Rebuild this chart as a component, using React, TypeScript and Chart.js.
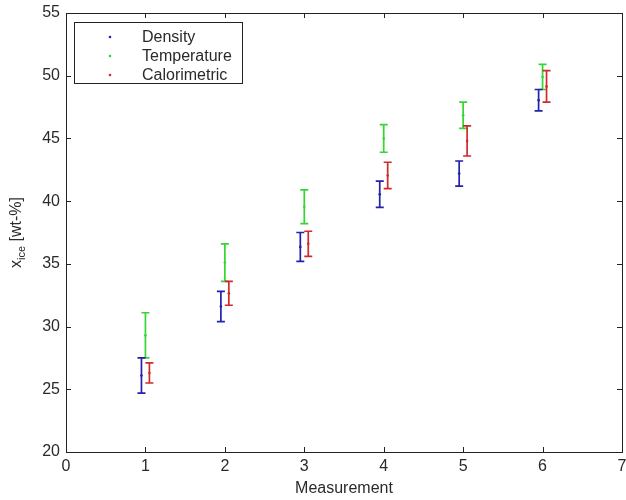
import React, { useEffect, useRef } from "react";
import { Chart, registerables } from "chart.js";

Chart.register(...registerables);

const measurements = [1, 2, 3, 4, 5, 6];

const densityMid = [26.1, 31.6, 36.35, 40.55, 42.2, 48.05];
const densityLow = [24.7, 30.4, 35.2, 39.5, 41.2, 47.2];
const densityHigh = [27.5, 32.8, 37.5, 41.6, 43.2, 48.9];

const temperatureMid = [29.3, 35.1, 39.55, 45.0, 46.85, 49.9];
const temperatureLow = [27.5, 33.6, 38.2, 43.9, 45.8, 48.9];
const temperatureHigh = [31.1, 36.6, 40.9, 46.1, 47.9, 50.9];

const calorimetricMid = [26.3, 32.65, 36.6, 42.05, 44.8, 49.15];
const calorimetricLow = [25.5, 31.7, 35.6, 41.0, 43.6, 47.9];
const calorimetricHigh = [27.1, 33.6, 37.6, 43.1, 46.0, 50.4];

const seriesNames = ["Density", "Temperature", "Calorimetric"];
const seriesOffsets = [-0.05, 0, 0.05];
const seriesColors = ["#2222aa", "#33d633", "#d02a2a"];

const xTicks = [0, 1, 2, 3, 4, 5, 6, 7];
const yTicks = [20, 25, 30, 35, 40, 45, 50, 55];

const FONT = "Liberation Sans, Arial, sans-serif";
const TXT = "#2a2a2a";

export default function App() {
  const ref = useRef<HTMLCanvasElement | null>(null);

  useEffect(() => {
    if (!ref.current) return;
    const mids = [densityMid, temperatureMid, calorimetricMid];
    const lows = [densityLow, temperatureLow, calorimetricLow];
    const highs = [densityHigh, temperatureHigh, calorimetricHigh];

    const datasets = seriesNames.map((name, i) => ({
      label: name,
      data: measurements.map((m, j) => ({ x: m + seriesOffsets[i], y: mids[i][j] })),
      backgroundColor: seriesColors[i],
      borderColor: seriesColors[i],
      pointRadius: 1.3,
      pointBorderWidth: 0,
      showLine: false,
    }));

    const errorPlugin = {
      id: "errbars",
      afterDatasetsDraw(chart: any) {
        const ctx = chart.ctx;
        const xs = chart.scales.x;
        const ys = chart.scales.y;
        ctx.save();
        const order = [1, 0, 2];
        order.forEach((i) => {
          ctx.strokeStyle = seriesColors[i];
          ctx.lineWidth = 1.7;
          measurements.forEach((m, j) => {
            const px = xs.getPixelForValue(m + seriesOffsets[i]);
            const pl = ys.getPixelForValue(lows[i][j]);
            const ph = ys.getPixelForValue(highs[i][j]);
            ctx.beginPath();
            ctx.moveTo(px, pl);
            ctx.lineTo(px, ph);
            ctx.moveTo(px - 4, pl);
            ctx.lineTo(px + 4, pl);
            ctx.moveTo(px - 4, ph);
            ctx.lineTo(px + 4, ph);
            ctx.stroke();
          });
        });
        ctx.restore();
      },
      afterDraw(chart: any) {
        const ctx = chart.ctx;
        const a = chart.chartArea;
        const xs = chart.scales.x;
        const ys = chart.scales.y;
        ctx.save();
        // frame
        ctx.strokeStyle = "#222";
        ctx.lineWidth = 1;
        ctx.strokeRect(Math.round(a.left) + 0.5, Math.round(a.top) + 0.5, Math.round(a.right - a.left), Math.round(a.bottom - a.top));
        // inward ticks
        ctx.beginPath();
        xTicks.forEach((t) => {
          const px = Math.round(xs.getPixelForValue(t)) + 0.5;
          ctx.moveTo(px, a.bottom);
          ctx.lineTo(px, a.bottom - 5);
          ctx.moveTo(px, a.top);
          ctx.lineTo(px, a.top + 5);
        });
        yTicks.forEach((t) => {
          const py = Math.round(ys.getPixelForValue(t)) + 0.5;
          ctx.moveTo(a.left, py);
          ctx.lineTo(a.left + 5, py);
          ctx.moveTo(a.right, py);
          ctx.lineTo(a.right - 5, py);
        });
        ctx.stroke();

        // legend
        const lx = 74, ly = 22, lw = 168, lh = 61;
        ctx.fillStyle = "#fff";
        ctx.fillRect(lx, ly, lw, lh);
        ctx.strokeStyle = "#222";
        ctx.strokeRect(lx + 0.5, ly + 0.5, lw, lh);
        ctx.font = `16px ${FONT}`;
        ctx.textBaseline = "middle";
        ctx.textAlign = "left";
        seriesNames.forEach((name, i) => {
          const yy = 37 + i * 19;
          ctx.fillStyle = seriesColors[i];
          ctx.beginPath();
          ctx.arc(110, yy, 1.3, 0, Math.PI * 2);
          ctx.fill();
          ctx.fillStyle = TXT;
          ctx.fillText(name, 142, yy + 1);
        });

        // y axis title with subscript
        ctx.translate(17, (a.top + a.bottom) / 2);
        ctx.rotate(-Math.PI / 2);
        ctx.fillStyle = TXT;
        ctx.textBaseline = "middle";
        ctx.font = `16px ${FONT}`;
        const w1 = ctx.measureText("x").width;
        ctx.font = `11px ${FONT}`;
        const w2 = ctx.measureText("ice").width;
        ctx.font = `16px ${FONT}`;
        const w3 = ctx.measureText(" [wt-%]").width;
        const total = w1 + w2 + w3;
        let cx = -total / 2;
        ctx.fillText("x", cx, 0);
        cx += w1;
        ctx.font = `11px ${FONT}`;
        ctx.fillText("ice", cx, 5);
        cx += w2;
        ctx.font = `16px ${FONT}`;
        ctx.fillText(" [wt-%]", cx, 0);
        ctx.restore();
      },
    };

    const chart = new Chart(ref.current, {
      type: "scatter",
      data: { datasets },
      options: {
        animation: false,
        responsive: false,
        layout: { padding: { top: 13, right: 3, left: 0, bottom: 0 } },
        plugins: { legend: { display: false }, tooltip: { enabled: false } },
        scales: {
          x: {
            type: "linear",
            min: 0,
            max: 7,
            grid: { display: false, drawTicks: false },
            border: { display: false },
            afterBuildTicks: (s: any) => {
              s.ticks = xTicks.map((v) => ({ value: v }));
            },
            afterFit: (s: any) => {
              s.height = 48;
              s.paddingRight = 0;
              s.paddingLeft = 0;
            },
            ticks: { color: TXT, font: { family: FONT, size: 16 }, padding: 5, maxRotation: 0, autoSkip: false },
            title: { display: true, text: "Measurement", color: TXT, font: { family: FONT, size: 16 }, padding: { top: 0, bottom: 2 } },
          },
          y: {
            type: "linear",
            min: 20,
            max: 55,
            grid: { display: false, drawTicks: false },
            border: { display: false },
            afterBuildTicks: (s: any) => {
              s.ticks = yTicks.map((v) => ({ value: v }));
            },
            afterFit: (s: any) => {
              s.width = 66;
              s.paddingTop = 0;
              s.paddingBottom = 0;
            },
            ticks: { color: TXT, font: { family: FONT, size: 16 }, padding: 6, autoSkip: false },
          },
        },
      },
      plugins: [errorPlugin],
    });
    return () => chart.destroy();
  }, []);

  return (
    <div style={{ position: "absolute", left: 0, top: 0, width: 626, height: 500, background: "#fff" }}>
      <canvas ref={ref} width={626} height={500} style={{ width: 626, height: 500 }} />
    </div>
  );
}
